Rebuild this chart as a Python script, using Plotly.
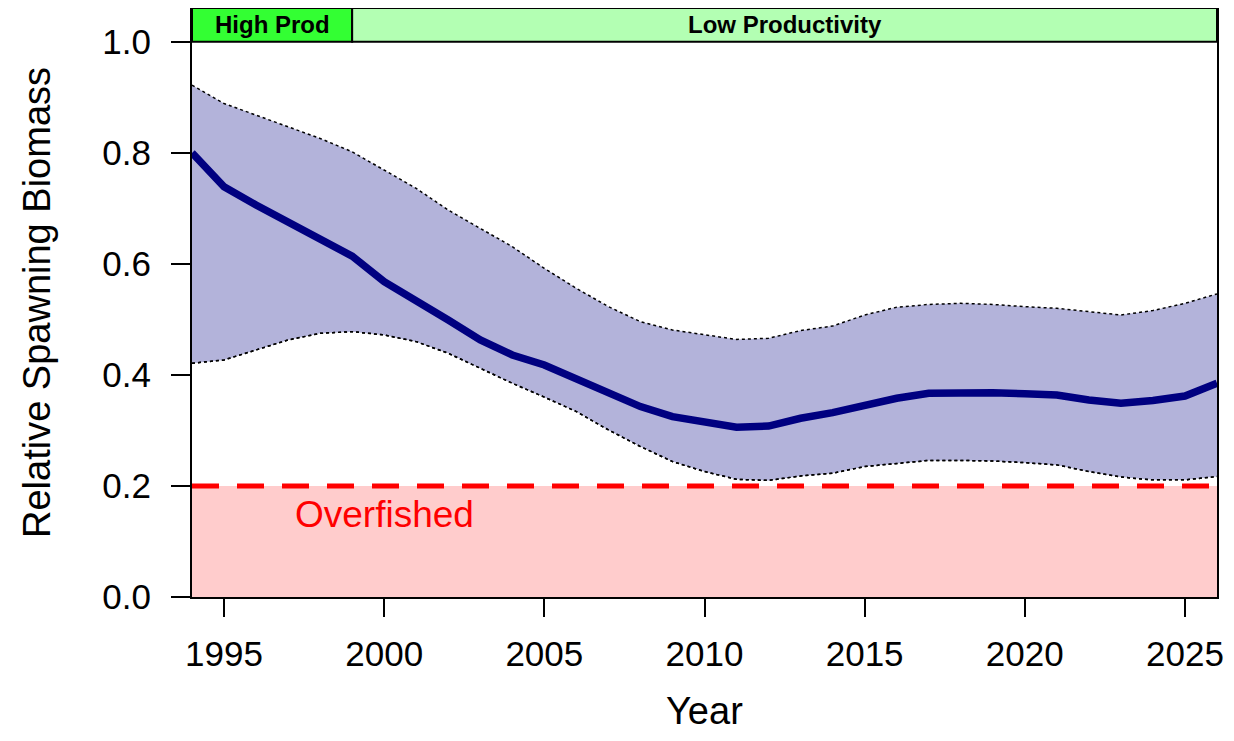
import plotly.graph_objects as go

# relative spawning biomass
years = list(range(1994, 2027))
median = [0.800, 0.739, 0.706, 0.676, 0.646, 0.614, 0.568, 0.535, 0.499, 0.463,
          0.436, 0.418, 0.394, 0.370, 0.343, 0.325, 0.314, 0.306, 0.308, 0.322,
          0.332, 0.346, 0.358, 0.367, 0.369, 0.368, 0.366, 0.364, 0.355, 0.349,
          0.354, 0.362, 0.385]
upper = [0.922, 0.889, 0.868, 0.847, 0.826, 0.802, 0.769, 0.736, 0.697, 0.664,
         0.631, 0.592, 0.556, 0.523, 0.496, 0.481, 0.472, 0.464, 0.466, 0.480,
         0.488, 0.508, 0.522, 0.527, 0.529, 0.527, 0.523, 0.520, 0.514, 0.508,
         0.516, 0.529, 0.546]
lower = [0.421, 0.427, 0.445, 0.463, 0.475, 0.478, 0.472, 0.460, 0.439, 0.412,
         0.385, 0.360, 0.334, 0.301, 0.271, 0.244, 0.226, 0.212, 0.210, 0.218,
         0.223, 0.235, 0.241, 0.246, 0.246, 0.245, 0.242, 0.238, 0.226, 0.216,
         0.211, 0.211, 0.217]

overfished_level = 0.2
periods = ["High Prod", "Low Productivity"]
period_start = [1994, 1999]
period_end = [1999, 2026]
period_colors = ["#33FF33", "#B3FFB3"]

x_ticks = [1995, 2000, 2005, 2010, 2015, 2020, 2025]
y_ticks = [0.0, 0.2, 0.4, 0.6, 0.8, 1.0]

FONT = "Liberation Sans, Arial, sans-serif"
y_top = 1.061

fig = go.Figure()

# overfished zone
fig.add_shape(type="rect", xref="x", yref="y", x0=years[0], x1=years[-1],
              y0=0, y1=overfished_level, fillcolor="#FFCCCC",
              line=dict(width=0), layer="below")

# confidence band
fig.add_trace(go.Scatter(x=years, y=lower, mode="lines",
                         line=dict(color="black", width=1.5, dash="dot"),
                         showlegend=False, hoverinfo="skip"))
fig.add_trace(go.Scatter(x=years, y=upper, mode="lines", fill="tonexty",
                         fillcolor="#B3B3DA",
                         line=dict(color="black", width=1.5, dash="dot"),
                         showlegend=False, hoverinfo="skip"))
fig.add_trace(go.Scatter(x=years, y=lower, mode="lines",
                         line=dict(color="black", width=1.5, dash="dot"),
                         showlegend=False, hoverinfo="skip"))

# median
fig.add_trace(go.Scatter(x=years, y=median, mode="lines",
                         line=dict(color="#000080", width=7.5),
                         showlegend=False))

# overfished threshold
fig.add_trace(go.Scatter(x=[years[0], years[-1]],
                         y=[overfished_level, overfished_level], mode="lines",
                         line=dict(color="#FF0000", width=5, dash="27px,18px"),
                         showlegend=False, hoverinfo="skip"))

fig.add_annotation(x=2000, y=0.148, text="Overfished", showarrow=False,
                   font=dict(family=FONT, size=37, color="#FF0000"))

# productivity periods strip
for name, x0, x1, col in zip(periods, period_start, period_end, period_colors):
    fig.add_shape(type="rect", xref="x", yref="y", x0=x0, x1=x1,
                  y0=1.0, y1=y_top, fillcolor=col,
                  line=dict(color="black", width=2))
    fig.add_annotation(x=(x0 + x1) / 2, y=(1.0 + y_top) / 2, text="<b>%s</b>" % name,
                       showarrow=False,
                       font=dict(family=FONT, size=24, color="black"))

# x axis title as an annotation so it doesn't push the bottom margin
fig.add_annotation(x=0.5, xref="paper", y=-0.193, yref="paper", yanchor="middle",
                   text="Year", showarrow=False,
                   font=dict(family=FONT, size=38, color="black"))

# page body has an 8px margin, so the figure is shrunk to fit the window
fig.update_layout(
    width=1218, height=725,
    margin=dict(l=184, r=9, t=0, b=136),
    plot_bgcolor="white", paper_bgcolor="white",
    font=dict(family=FONT, color="black"),
    showlegend=False,
)
fig.update_xaxes(range=[years[0], years[-1]], tickvals=x_ticks,
                 ticks="outside", ticklen=18, tickwidth=1.5, tickcolor="black",
                 showline=True, mirror=True, linecolor="black", linewidth=2,
                 showgrid=False, zeroline=False, ticklabelstandoff=7,
                 automargin=False,
                 tickfont=dict(family=FONT, size=35))
fig.update_yaxes(range=[0, y_top], tickvals=y_ticks, tickformat=".1f",
                 ticks="outside", ticklen=19, tickwidth=1.5, tickcolor="black",
                 showline=True, mirror=True, linecolor="black", linewidth=2,
                 showgrid=False, zeroline=False, ticklabelstandoff=13,
                 automargin=False,
                 tickfont=dict(family=FONT, size=35),
                 title=dict(text="Relative Spawning Biomass",
                            font=dict(family=FONT, size=38), standoff=40))

fig.write_html("out.html")
